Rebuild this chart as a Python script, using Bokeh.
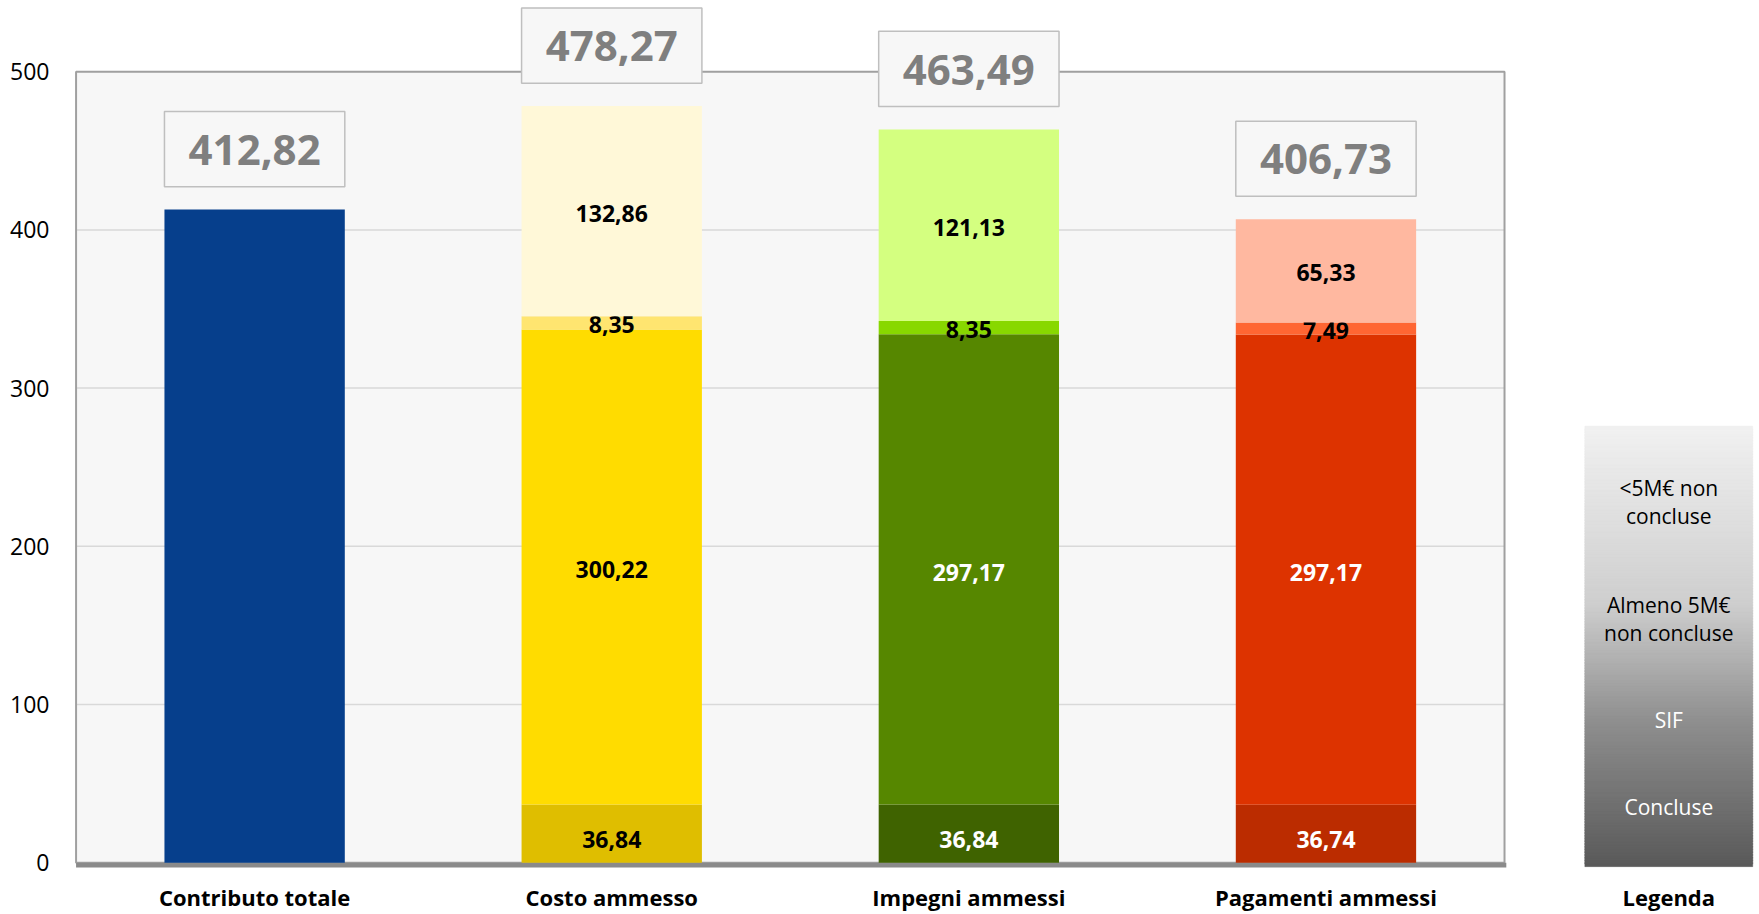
import numpy as np
from bokeh.plotting import figure
from bokeh.models import ColumnDataSource, FixedTicker, Range1d
from bokeh.core.properties import value
from bokeh.embed import file_html
from bokeh.resources import INLINE

# ---------------- data ----------------
categorie = ["Contributo totale", "Costo ammesso", "Impegni ammessi", "Pagamenti ammessi"]
contributo_totale = [412.82]
concluse = [36.84, 36.84, 36.74]
sif = [300.22, 297.17, 297.17]
almeno_5m = [8.35, 8.35, 7.49]
meno_5m = [132.86, 121.13, 65.33]
totali = [412.82, 478.27, 463.49, 406.73]
legenda_voci = ["<5M\u20ac non\nconcluse", "Almeno 5M\u20ac\nnon concluse", "SIF", "Concluse"]
legenda_titolo = "Legenda"
y_ticks = [0, 100, 200, 300, 400, 500]

# ---------------- styles ----------------
FONT = value("Open Sans")
col_blu = "#063f8c"
col_concluse = ["#dfbe00", "#3f6300", "#bb2c00"]
col_sif = ["#ffdc00", "#568700", "#dd3300"]
col_almeno = ["#ffe570", "#88d800", "#ff6633"]
col_meno = ["#fff8d8", "#d4ff80", "#ffb8a0"]
txt_concluse = ["black", "white", "white"]
txt_sif = ["black", "white", "white"]
txt_almeno = ["black", "black", "black"]
txt_meno = ["black", "black", "black"]

BAR_W = 0.505
X0, X1 = -0.5, 3.5           # plot-area edges (category units)
LEG_X, LEG_W = 3.96, 0.47    # legend column
LEG_BOTTOM, LEG_TOP = -2.5, 275
LEG_TEXT_Y = [228, 154, 90, 35]
LEG_TEXT_COL = ["black", "black", "white", "white"]


def fmt(v):
    return f"{v:.2f}".replace(".", ",")


p = figure(width=1757, height=914, output_backend="svg", toolbar_location=None,
           x_range=Range1d(-0.51, 4.2), y_range=Range1d(-3.0, 545),
           min_border_left=72, min_border_right=3, min_border_top=0, min_border_bottom=46)
p.outline_line_color = None
p.background_fill_color = "white"
p.border_fill_color = "white"
p.xgrid.visible = False
p.ygrid.visible = False

# plot area background
p.quad(left=[X0], right=[X1], bottom=[0], top=[500], fill_color="#f7f7f7", line_color=None)
# grid lines
gl = y_ticks[1:-1]
p.segment(x0=[X0] * len(gl), x1=[X1] * len(gl), y0=gl, y1=gl, line_color="#d9d9d9", line_width=1.5)
# plot area border
p.quad(left=[X0], right=[X1], bottom=[0], top=[500], fill_color=None, line_color="#a0a0a0", line_width=2)
# thick base line
p.quad(left=[X0], right=[X1 + 0.005], bottom=[-4.4], top=[0], fill_color="#8a8a8a", line_color=None)

# blue bar
p.vbar(x=[0], top=contributo_totale, width=BAR_W, fill_color=col_blu, line_color=None)

# stacked bars
xs = np.arange(1, len(categorie))
layers = [
    (concluse, col_concluse, txt_concluse, 6),
    (sif, col_sif, txt_sif, 3),
    (almeno_5m, col_almeno, txt_almeno, 2),
    (meno_5m, col_meno, txt_meno, 2),
]
base = np.zeros(len(xs))
for vals, cols, tcols, yoff in layers:
    vals = np.array(vals)
    top = base + vals
    src = ColumnDataSource(dict(x=xs, bottom=base, top=top, mid=(base + top) / 2,
                                color=cols, tcolor=tcols, lab=[fmt(v) for v in vals]))
    p.vbar(x="x", bottom="bottom", top="top", width=BAR_W, fill_color="color",
           line_color=None, source=src)
    p.text(x="x", y="mid", text="lab", source=src, text_color="tcolor",
           text_font=FONT, text_font_style="bold", text_font_size="23px",
           text_align="center", text_baseline="middle", y_offset=yoff)
    base = top

# total boxes
tot = np.array(totali)
xt = np.arange(len(categorie))
tsrc = ColumnDataSource(dict(x=xt, left=xt - BAR_W / 2, right=xt + BAR_W / 2,
                             bottom=tot + 14.5, top=tot + 62, mid=tot + 38.5,
                             lab=[fmt(v) for v in totali]))
p.quad(left="left", right="right", bottom="bottom", top="top", source=tsrc,
       fill_color="#f7f7f7", line_color="#bfbfbf", line_width=1.5)
p.text(x="x", y="mid", text="lab", source=tsrc, text_color="#7f7f7f",
       text_font=FONT, text_font_style="bold", text_font_size="42px",
       text_align="center", text_baseline="middle", y_offset=1)

# legend gradient column
n = 160
edges = np.linspace(LEG_BOTTOM, LEG_TOP, n + 1)
frac = (np.arange(n) + 0.5) / n
g = np.interp(frac, [0.0, 0.33, 0.6, 1.0], [90, 143, 207, 241]).astype(int)
gcols = ["#%02x%02x%02x" % (v, v, v) for v in g]
p.quad(left=[LEG_X - LEG_W / 2] * n, right=[LEG_X + LEG_W / 2] * n,
       bottom=edges[:-1], top=edges[1:] + 1.0, fill_color=gcols, line_color=gcols,
       line_width=0.5)
p.text(x=[LEG_X] * len(legenda_voci), y=LEG_TEXT_Y, text=legenda_voci,
       text_color=LEG_TEXT_COL, text_font=FONT, text_font_size="21px",
       text_align="center", text_baseline="middle", text_line_height=1.0)

# axes
p.yaxis.ticker = FixedTicker(ticks=y_ticks)
p.yaxis.axis_line_color = None
p.yaxis.major_tick_line_color = None
p.yaxis.minor_tick_line_color = None
p.yaxis.major_label_text_font = "Open Sans"
p.yaxis.major_label_text_font_size = "23px"
p.yaxis.major_label_text_color = "black"
p.yaxis.major_label_standoff = 17

xticks = list(range(len(categorie))) + [LEG_X]
p.xaxis.ticker = FixedTicker(ticks=xticks)
overrides = {i: c for i, c in enumerate(categorie)}
overrides[LEG_X] = legenda_titolo
p.xaxis.major_label_overrides = overrides
p.xaxis.axis_line_color = None
p.xaxis.major_tick_line_color = None
p.xaxis.minor_tick_line_color = None
p.xaxis.major_label_text_font = "Open Sans"
p.xaxis.major_label_text_font_style = "bold"
p.xaxis.major_label_text_font_size = "22px"
p.xaxis.major_label_text_color = "black"
p.xaxis.major_label_standoff = 8

open("out.html", "w").write(file_html(p, INLINE))
